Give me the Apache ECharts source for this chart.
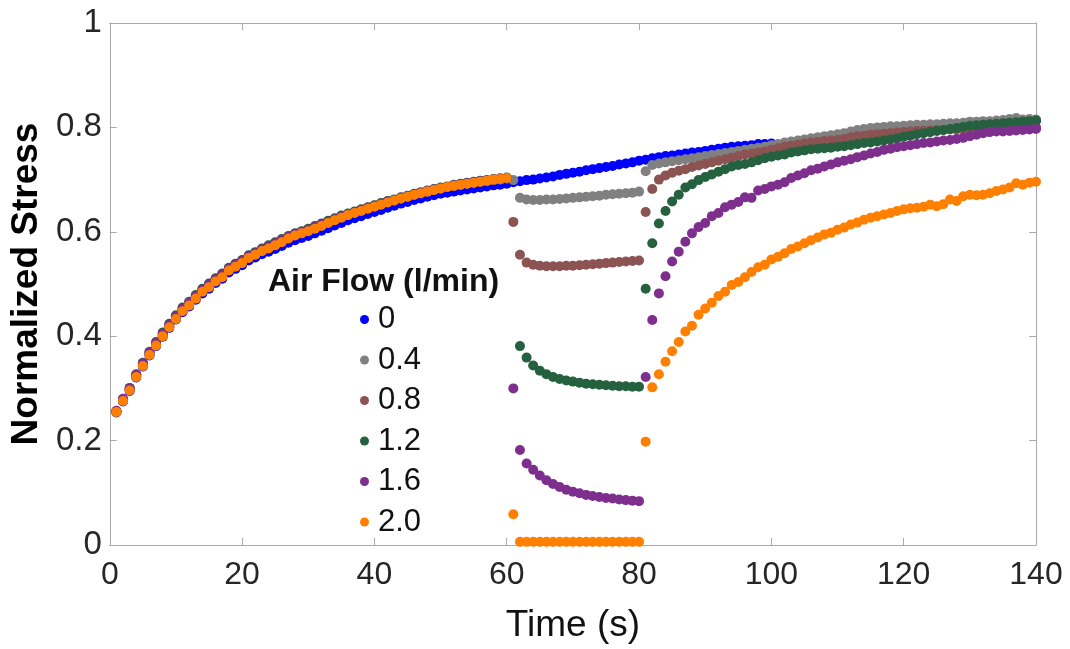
<!DOCTYPE html>
<html>
<head>
<meta charset="utf-8">
<script src="https://cdn.jsdelivr.net/npm/echarts@6/dist/echarts.min.js"></script>
<style>
  html, body { margin: 0; padding: 0; background: #ffffff; }
  #chart { width: 1070px; height: 649px; }
</style>
</head>
<body>
<div id="chart"></div>
<script>
// Sample times (s)
const timeSec = [
  1,2,3,4,5,6,7,8,9,10,11,12,13,14,15,16,17,18,19,20,
  21,22,23,24,25,26,27,28,29,30,31,32,33,34,35,36,37,38,39,40,
  41,42,43,44,45,46,47,48,49,50,51,52,53,54,55,56,57,58,59,60,
  61,62,63,64,65,66,67,68,69,70,71,72,73,74,75,76,77,78,79,80,
  81,82,83,84,85,86,87,88,89,90,91,92,93,94,95,96,97,98,99,100,
  101,102,103,104,105,106,107,108,109,110,111,112,113,114,115,116,117,118,119,120,
  121,122,123,124,125,126,127,128,129,130,131,132,133,134,135,136,137,138,139,140
];

// Air flow rates (l/min), legend order
const flowLabels = ['0', '0.4', '0.8', '1.2', '1.6', '2.0'];

// Normalized stress per air flow rate, one value per sample time (null = no sample)
const stressFlow0 = [
  0.254,0.275,0.295,0.321,0.342,0.363,0.381,0.399,0.416,0.432,
  0.446,0.457,0.470,0.482,0.491,0.502,0.510,0.522,0.529,0.536,
  0.545,0.551,0.557,0.562,0.567,0.573,0.579,0.584,0.588,0.592,
  0.597,0.602,0.607,0.612,0.617,0.622,0.626,0.630,0.634,0.638,
  0.642,0.646,0.650,0.654,0.657,0.661,0.664,0.667,0.670,0.673,
  0.675,0.677,0.679,0.681,0.683,0.685,0.687,0.689,0.690,0.692,
  0.695,0.697,0.699,0.700,0.702,0.704,0.706,0.709,0.711,0.713,
  0.715,0.718,0.720,0.722,0.724,0.726,0.729,0.731,0.733,0.736,
  0.738,0.741,0.743,0.745,0.746,0.748,0.750,0.752,0.753,0.755,
  0.757,0.759,0.761,0.763,0.764,0.765,0.766,0.768,0.768,0.769,
  0.766,0.768,0.770,0.772,0.774,0.776,0.778,0.780,0.782,0.784,
  0.786,0.789,0.791,0.793,0.795,0.796,0.797,0.798,0.799,0.800,
  0.801,0.802,0.802,0.803,0.803,0.804,0.805,0.805,0.806,0.807,
  0.808,0.808,0.809,0.809,0.810,0.811,0.812,0.812,0.813,0.813
];
const stressFlow04 = [
  0.256,0.278,0.298,0.324,0.346,0.367,0.385,0.403,0.420,0.436,
  0.450,0.462,0.475,0.487,0.497,0.508,0.516,0.528,0.536,0.543,
  0.552,0.558,0.565,0.571,0.577,0.583,0.589,0.594,0.599,0.603,
  0.608,0.613,0.618,0.623,0.628,0.633,0.637,0.641,0.645,0.649,
  0.653,0.657,0.660,0.664,0.667,0.671,0.674,0.677,0.680,0.683,
  0.686,0.688,0.690,0.692,0.694,0.696,0.697,0.699,0.700,0.702,
  0.699,0.665,0.662,0.661,0.661,0.662,0.662,0.663,0.664,0.665,
  0.666,0.667,0.668,0.669,0.671,0.672,0.673,0.674,0.675,0.677,
  0.716,0.728,0.731,0.733,0.735,0.737,0.739,0.741,0.743,0.745,
  0.747,0.749,0.751,0.753,0.755,0.757,0.759,0.761,0.763,0.766,
  0.768,0.771,0.773,0.775,0.777,0.779,0.781,0.783,0.785,0.787,
  0.789,0.792,0.795,0.797,0.799,0.800,0.801,0.802,0.802,0.803,
  0.804,0.805,0.805,0.806,0.806,0.807,0.808,0.808,0.809,0.811,
  0.811,0.812,0.812,0.813,0.814,0.816,0.818,0.815,0.816,0.815
];
const stressFlow08 = [
  0.255,0.277,0.298,0.324,0.345,0.366,0.384,0.402,0.419,0.435,
  0.450,0.461,0.474,0.487,0.496,0.507,0.515,0.527,0.535,0.542,
  0.551,0.557,0.564,0.570,0.576,0.582,0.588,0.594,0.598,0.602,
  0.607,0.612,0.618,0.623,0.628,0.633,0.637,0.641,0.645,0.649,
  0.653,0.657,0.660,0.664,0.667,0.671,0.674,0.677,0.680,0.683,
  0.686,0.688,0.690,0.692,0.694,0.696,0.697,0.699,0.701,0.702,
  0.619,0.556,0.541,0.537,0.535,0.534,0.534,0.534,0.535,0.535,
  0.536,0.537,0.538,0.539,0.540,0.541,0.542,0.543,0.544,0.545,
  0.638,0.682,0.700,0.708,0.713,0.717,0.720,0.724,0.727,0.730,
  0.733,0.736,0.739,0.742,0.745,0.748,0.750,0.752,0.754,0.757,
  0.760,0.763,0.765,0.767,0.769,0.771,0.772,0.774,0.775,0.776,
  0.778,0.781,0.783,0.784,0.786,0.787,0.788,0.789,0.790,0.791,
  0.792,0.793,0.794,0.794,0.795,0.795,0.796,0.796,0.796,0.797,
  0.797,0.797,0.798,0.798,0.798,0.799,0.799,0.799,0.800,0.800
];
const stressFlow12 = [
  0.256,0.279,0.301,0.327,0.349,0.370,0.389,0.407,0.424,0.440,
  0.455,0.466,0.479,0.491,0.501,0.511,0.520,0.531,0.539,0.546,
  0.555,0.561,0.568,0.574,0.580,0.586,0.592,0.597,0.601,0.606,
  0.611,0.616,0.621,0.626,0.631,0.635,0.639,0.643,0.647,0.651,
  0.655,0.659,0.662,0.666,0.669,0.673,0.676,0.679,0.682,0.685,
  0.687,0.690,0.692,0.694,0.696,0.698,0.699,0.701,0.702,0.704,
  null, 0.381,0.359,0.344,0.334,0.327,0.322,0.318,0.315,0.313,
  0.311,0.309,0.308,0.307,0.306,0.305,0.304,0.304,0.303,0.303,
  0.491,0.578,0.616,0.640,0.658,0.671,0.685,0.691,0.699,0.705,
  0.710,0.715,0.720,0.725,0.728,0.730,0.733,0.737,0.741,0.744,
  0.746,0.748,0.752,0.754,0.756,0.758,0.759,0.760,0.761,0.763,
  0.764,0.766,0.768,0.770,0.771,0.773,0.775,0.777,0.779,0.782,
  0.784,0.787,0.789,0.791,0.793,0.795,0.797,0.799,0.801,0.803,
  0.804,0.805,0.806,0.807,0.808,0.809,0.810,0.811,0.812,0.813
];
const stressFlow16 = [
  0.257,0.280,0.300,0.326,0.348,0.369,0.387,0.405,0.422,0.438,
  0.452,0.464,0.477,0.489,0.499,0.509,0.518,0.529,0.537,0.544,
  0.553,0.559,0.566,0.572,0.578,0.584,0.590,0.595,0.600,0.604,
  0.609,0.614,0.619,0.624,0.629,0.634,0.638,0.642,0.646,0.650,
  0.654,0.658,0.661,0.665,0.668,0.672,0.675,0.678,0.681,0.684,
  0.686,0.689,0.691,0.693,0.695,0.697,0.698,0.700,0.702,0.703,
  0.300,0.182,0.156,0.144,0.133,0.124,0.117,0.111,0.106,0.102,
  0.099,0.096,0.094,0.092,0.090,0.089,0.087,0.086,0.085,0.084,
  0.322,0.431,0.482,0.515,0.543,0.562,0.581,0.597,0.609,0.617,
  0.630,0.636,0.647,0.652,0.657,0.666,0.665,0.679,0.682,0.687,
  0.690,0.695,0.703,0.708,0.712,0.718,0.721,0.725,0.729,0.733,
  0.736,0.739,0.743,0.746,0.750,0.753,0.757,0.759,0.762,0.764,
  0.766,0.768,0.770,0.771,0.773,0.775,0.776,0.778,0.780,0.783,
  0.786,0.789,0.791,0.792,0.792,0.793,0.794,0.795,0.796,0.797
];
const stressFlow20 = [
  0.255,0.276,0.296,0.322,0.343,0.364,0.382,0.400,0.417,0.433,
  0.448,0.459,0.472,0.485,0.494,0.505,0.513,0.526,0.533,0.540,
  0.550,0.556,0.563,0.568,0.574,0.580,0.587,0.593,0.597,0.601,
  0.606,0.611,0.617,0.622,0.627,0.632,0.636,0.640,0.644,0.648,
  0.652,0.656,0.660,0.664,0.667,0.671,0.674,0.677,0.680,0.683,
  0.686,0.688,0.690,0.692,0.694,0.696,0.698,0.700,0.701,0.703,
  0.059,0.006,0.006,0.006,0.006,0.006,0.006,0.006,0.006,0.006,
  0.006,0.006,0.006,0.006,0.006,0.006,0.006,0.006,0.006,0.006,
  0.198,0.302,0.327,0.351,0.371,0.389,0.409,0.420,0.441,0.453,
  0.464,0.477,0.485,0.498,0.504,0.513,0.523,0.532,0.537,0.547,
  0.552,0.559,0.567,0.572,0.578,0.584,0.589,0.595,0.598,0.604,
  0.608,0.614,0.618,0.623,0.627,0.630,0.633,0.636,0.640,0.643,
  0.645,0.646,0.648,0.652,0.649,0.653,0.662,0.659,0.668,0.671,
  0.670,0.671,0.674,0.678,0.681,0.685,0.693,0.690,0.694,0.696
];

const stressByFlow = [stressFlow0, stressFlow04, stressFlow08, stressFlow12, stressFlow16, stressFlow20];
const markerColors = ['#0000ff', '#808080', '#8b5352', '#25613f', '#7e2f8e', '#ff8000'];

const FONT = '"Liberation Sans", Arial, sans-serif';
const AXIS_GRAY = '#a9a9a9';

function pointsOf(values) {
  const pts = [];
  values.forEach((v, i) => { if (v !== null) pts.push([timeSec[i], v]); });
  return pts;
}

const series = flowLabels.map((name, k) => ({
  name: name,
  type: 'scatter',
  symbol: 'circle',
  symbolSize: 10,
  data: pointsOf(stressByFlow[k]),
  itemStyle: { color: markerColors[k], opacity: 1 },
  emphasis: { disabled: true }
}));

const frameAxis = {
  axisLine: { show: true, onZero: false, lineStyle: { color: AXIS_GRAY, width: 1 } },
  axisTick: { show: true, inside: true, length: 7, lineStyle: { color: AXIS_GRAY, width: 1 } },
  splitLine: { show: false }
};

const chart = echarts.init(document.getElementById('chart'), null, { renderer: 'canvas' });
chart.setOption({
  animation: false,
  backgroundColor: '#ffffff',
  grid: { left: 108, right: 34, top: 23, bottom: 98, containLabel: false },
  xAxis: [
    Object.assign({
      type: 'value', min: 0, max: 140, interval: 20, position: 'bottom',
      axisLabel: { fontSize: 32, color: '#262626', margin: 14, fontFamily: FONT },
      name: 'Time (s)', nameLocation: 'middle', nameGap: 62,
      nameTextStyle: { fontSize: 37, color: '#111111', fontFamily: FONT }
    }, frameAxis),
    Object.assign({
      type: 'value', min: 0, max: 140, interval: 20, position: 'top',
      axisLabel: { show: false }
    }, frameAxis)
  ],
  yAxis: [
    Object.assign({
      type: 'value', min: 0, max: 1, interval: 0.2, position: 'left',
      axisLabel: { fontSize: 33, color: '#262626', margin: 8, fontFamily: FONT },
      name: 'Normalized Stress', nameLocation: 'middle', nameGap: 60,
      nameTextStyle: { fontSize: 37, fontWeight: 'bold', color: '#000000', fontFamily: FONT }
    }, frameAxis),
    Object.assign({
      type: 'value', min: 0, max: 1, interval: 0.2, position: 'right',
      axisLabel: { show: false }
    }, frameAxis)
  ],
  legend: {
    orient: 'vertical',
    left: 355,
    top: 299,
    icon: 'circle',
    itemWidth: 9,
    itemHeight: 9,
    itemGap: 9.5,
    selectedMode: false,
    data: flowLabels,
    textStyle: { fontSize: 31, lineHeight: 30, color: '#111111', fontFamily: FONT, padding: [0, 0, 0, 4] }
  },
  graphic: [{
    type: 'text',
    left: 268,
    top: 266,
    style: { text: 'Air Flow (l/min)', font: 'bold 32px "Liberation Sans", Arial, sans-serif', fill: '#111111' }
  }],
  series: series
});
</script>
</body>
</html>
